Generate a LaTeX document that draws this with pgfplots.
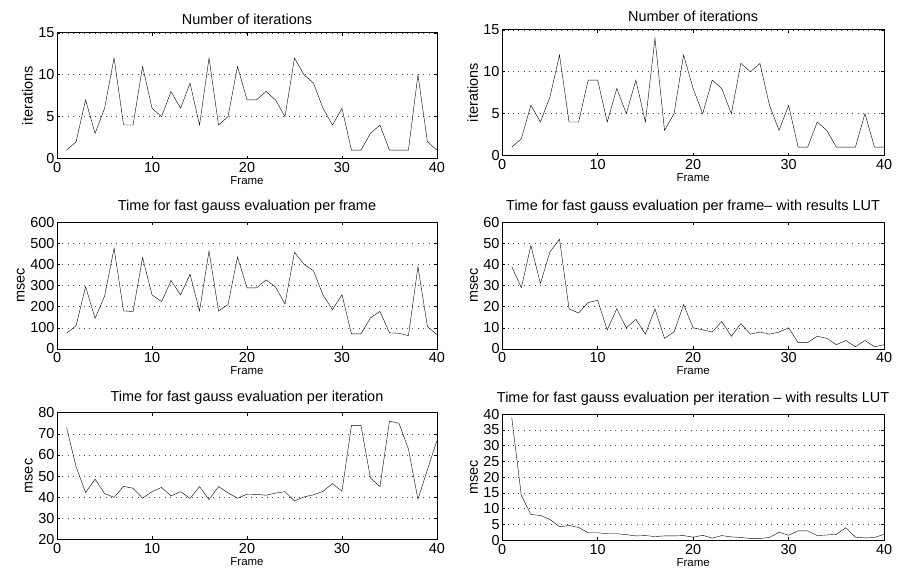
\documentclass[border=0pt]{standalone}
\usepackage{pgfplots}
\pgfplotsset{compat=1.18}
\usepackage{fontspec}
\setmainfont{Liberation Sans}
\begin{document}
\pgfplotsset{
  mstyle/.style={
    scale only axis,
    width=381pt, height=126pt,
    anchor=south west,
    xmin=0, xmax=40,
    xtick={0,10,20,30,40},
    tick align=inside,
    major tick length=3pt,
    ymajorgrids,
    grid style={dash pattern=on 0.8pt off 4.6pt, black!70, line width=0.6pt},
    axis line style={line width=0.8pt},
    tick style={black, line width=0.6pt},
    /pgf/number format/assume math mode=true,
    ticklabel style={font=\fontsize{14.5}{15}\selectfont},
    yticklabel style={inner sep=1pt, xshift=-1.5pt},
    xticklabel style={inner sep=1pt, yshift=-2.5pt},
    ylabel style={font=\fontsize{14.5}{15}\selectfont, yshift=1pt},
    xlabel style={font=\fontsize{11.5}{12}\selectfont, yshift=0.5pt},
    title style={font=\fontsize{14.5}{15}\selectfont, yshift=-1pt},
    xlabel={Frame},
    cycle list={{black, line width=0.6pt, mark=none}},
  }
}
\begin{tikzpicture}[x=1pt,y=1pt]
\useasboundingbox (0,0) rectangle (899,577);
% Row 1 left
\begin{axis}[mstyle, at={(54.5pt,418pt)}, ymin=0, ymax=15, ytick={0,5,10,15},
  title={Number of iterations}, ylabel={iterations}]
\addplot coordinates {(1,1)(2,2)(3,7)(4,3)(5,6)(6,12)(7,4)(8,4)(9,11)(10,6)(11,5)(12,8)(13,6)(14,9)(15,4)(16,12)(17,4)(18,5)(19,11)(20,7)(21,7)(22,8)(23,7)(24,5)(25,12)(26,10)(27,9)(28,6)(29,4)(30,6)(31,1)(32,1)(33,3)(34,4)(35,1)(36,1)(37,1)(38,10)(39,2)(40,1)};
\end{axis}
% Row 1 right
\begin{axis}[mstyle, at={(501pt,421pt)}, width=383pt, ymin=0, ymax=15, ytick={0,5,10,15},
  title={Number of iterations}, ylabel={iterations}]
\addplot coordinates {(1,1)(2,2)(3,6)(4,4)(5,7)(6,12)(7,4)(8,4)(9,9)(10,9)(11,4)(12,8)(13,5)(14,9)(15,4)(16,14)(17,3)(18,5)(19,12)(20,8)(21,5)(22,9)(23,8)(24,5)(25,11)(26,10)(27,11)(28,6)(29,3)(30,6)(31,1)(32,1)(33,4)(34,3)(35,1)(36,1)(37,1)(38,5)(39,1)(40,1)};
\end{axis}
% Row 2 left
\begin{axis}[mstyle, at={(54.5pt,227pt)}, height=127pt, ymin=0, ymax=600, ytick={0,100,200,300,400,500,600},
  title={Time for fast gauss evaluation per frame}, ylabel={msec}]
\addplot coordinates {(1,74)(2,110)(3,295)(4,145)(5,250)(6,477)(7,180)(8,177)(9,433)(10,256)(11,224)(12,324)(13,256)(14,354)(15,180)(16,464)(17,180)(18,210)(19,436)(20,289)(21,289)(22,327)(23,294)(24,213)(25,458)(26,401)(27,370)(28,256)(29,186)(30,257)(31,71)(32,71)(33,147)(34,178)(35,76)(36,74)(37,63)(38,390)(39,106)(40,68)};
\end{axis}
% Row 2 right
\begin{axis}[mstyle, at={(501pt,227pt)}, width=383pt, height=127pt, ymin=0, ymax=60, ytick={0,10,20,30,40,50,60},
  title={Time for fast gauss evaluation per frame– with results LUT}, ylabel={msec}]
\addplot coordinates {(1,39)(2,29)(3,49)(4,31)(5,46)(6,52)(7,19)(8,17)(9,22)(10,23)(11,9)(12,19)(13,10)(14,14)(15,7)(16,19)(17,5)(18,8)(19,21)(20,10)(21,9)(22,8)(23,13)(24,6)(25,12)(26,7)(27,8)(28,7)(29,8)(30,10)(31,3)(32,3)(33,6)(34,5)(35,2)(36,4)(37,1)(38,4)(39,1)(40,2)};
\end{axis}
% Row 3 left
\begin{axis}[mstyle, at={(54.5pt,36pt)}, height=127pt, ymin=20, ymax=80, ytick={20,30,40,50,60,70,80},
  title={Time for fast gauss evaluation per iteration}, ylabel={msec}]
\addplot coordinates {(1,72.9)(2,54.4)(3,42.2)(4,48.5)(5,41.7)(6,39.9)(7,45.1)(8,44.2)(9,39.5)(10,42.6)(11,44.6)(12,40.6)(13,42.6)(14,39.4)(15,45)(16,38.8)(17,45)(18,42)(19,39.5)(20,41.4)(21,41.3)(22,40.9)(23,41.9)(24,42.6)(25,38.2)(26,40.1)(27,41.1)(28,42.7)(29,46.4)(30,42.8)(31,74)(32,74)(33,49)(34,45)(35,76)(36,75)(37,62.8)(38,39)(39,53)(40,66.8)};
\end{axis}
% Row 3 right
\begin{axis}[mstyle, at={(501pt,35pt)}, width=383pt, height=126.5pt, ymin=0, ymax=40, ytick={0,5,10,15,20,25,30,35,40},
  title={Time for fast gauss evaluation per iteration – with results LUT}, ylabel={msec}]
\addplot coordinates {(1,38.9)(2,14.2)(3,8.2)(4,7.9)(5,6.6)(6,4.3)(7,4.7)(8,4.1)(9,2.4)(10,2.4)(11,2.1)(12,2.1)(13,1.8)(14,1.4)(15,1.5)(16,1.2)(17,1.4)(18,1.4)(19,1.5)(20,1.0)(21,1.6)(22,0.7)(23,1.5)(24,1.1)(25,0.9)(26,0.6)(27,0.6)(28,0.9)(29,2.6)(30,1.6)(31,3.0)(32,3.0)(33,1.5)(34,1.7)(35,1.9)(36,4.0)(37,1.0)(38,0.75)(39,0.9)(40,1.9)};
\end{axis}
\end{tikzpicture}
\end{document}
